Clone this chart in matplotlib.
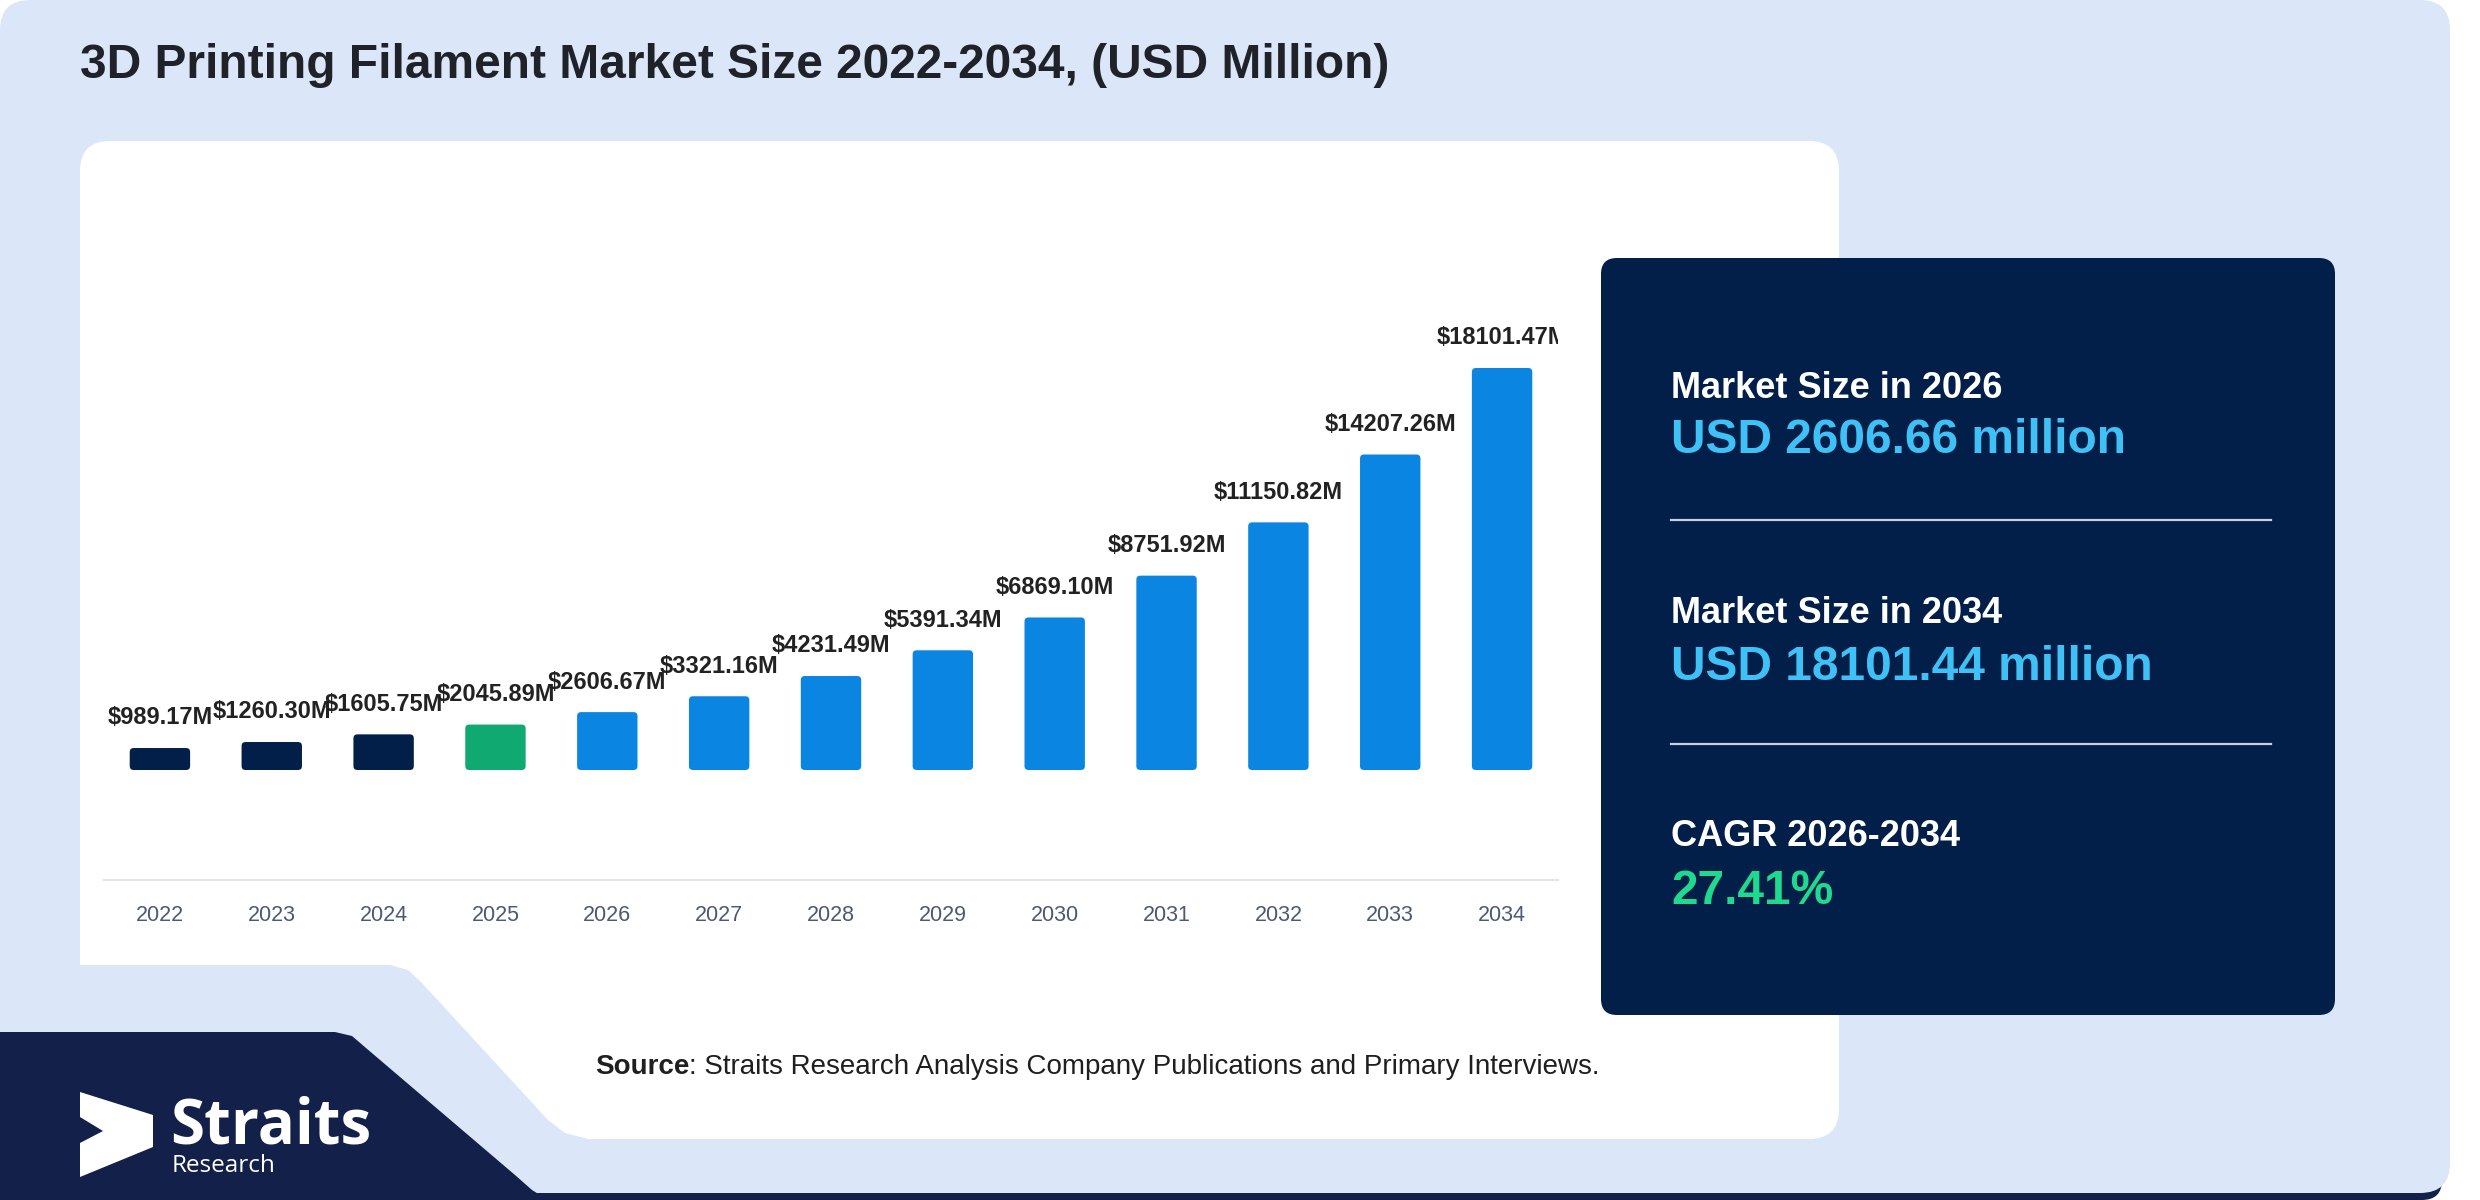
import matplotlib
matplotlib.use("Agg")
import matplotlib.pyplot as plt
from matplotlib.patches import FancyBboxPatch, Polygon

plt.rcParams["font.family"] = ["Liberation Sans", "DejaVu Sans"]

# data
years = ["2022", "2023", "2024", "2025", "2026", "2027", "2028",
         "2029", "2030", "2031", "2032", "2033", "2034"]
values = [989.17, 1260.30, 1605.75, 2045.89, 2606.67, 3321.16, 4231.49,
          5391.34, 6869.10, 8751.92, 11150.82, 14207.26, 18101.47]
base_year = "2025"

title = "3D Printing Filament Market Size 2022-2034, (USD Million)"
stats = [
    ("Market Size in 2026", "USD 2606.66 million"),
    ("Market Size in 2034", "USD 18101.44 million"),
    ("CAGR 2026-2034", "27.41%"),
]
source_rest = ": Straits Research Analysis Company Publications and Primary Interviews."

NAVY = "#021f4a"
LOGO_NAVY = "#13204a"
GREEN = "#10a972"
BLUE = "#0a85e2"
LIGHT_BG = "#dbe7f8"

W, H = 2480, 1200
fig = plt.figure(figsize=(W / 100, H / 100), dpi=100)
fig.patch.set_facecolor("white")

# background layer in pixel coordinates (y down)
bg = fig.add_axes([0, 0, 1, 1], zorder=0)
bg.set_xlim(0, W)
bg.set_ylim(H, 0)
bg.axis("off")

# dark strip peeking out under the card
bg.add_patch(FancyBboxPatch((0, 1120), 2442, 80, boxstyle="round,pad=0,rounding_size=20",
                            fc=LOGO_NAVY, ec="none"))
back = FancyBboxPatch((0, 0), 2450, 1193, boxstyle="round,pad=0,rounding_size=30",
                      fc=LIGHT_BG, ec="none")
bg.add_patch(back)

# white chart card with a cut corner at bottom left
bg.add_patch(FancyBboxPatch((80, 141), 1759, 998, boxstyle="round,pad=0,rounding_size=30",
                            fc="white", ec="none"))
bg.add_patch(Polygon([(60, 965), (390, 965), (408, 970), (421, 982), (548, 1120),
                      (565, 1133), (592, 1140), (592, 1165), (60, 1165)],
                     closed=True, fc=LIGHT_BG, ec="none"))

# logo block
logo_bg = Polygon([(0, 1032), (335, 1032), (352, 1036), (366, 1048), (515, 1175),
                   (532, 1190), (548, 1200), (0, 1200)], closed=True, fc=LOGO_NAVY, ec="none")
bg.add_patch(logo_bg)
bg.add_patch(Polygon([(80, 1092), (153, 1115), (153, 1147), (80, 1177), (80, 1143),
                      (103, 1131), (80, 1117)], closed=True, fc="white", ec="none"))
bg.text(170, 1143, "Straits", family=["Open Sans", "DejaVu Sans"], fontsize=44.5,
        fontweight="bold", color="white", va="baseline")
bg.text(172, 1172, "Research", family=["Open Sans", "DejaVu Sans"], fontsize=17.5,
        color="white", va="baseline")

# title
bg.text(80, 78, title, fontsize=34.5, fontweight="bold", color="#1f2329", va="baseline")

# source line
src = bg.text(595, 1074, "Source", fontsize=20, fontweight="bold", color="#1f1f1f",
              va="baseline")
bg.annotate(source_rest, xy=(1, 0), xycoords=src, ha="left", va="bottom",
            fontsize=20, color="#1f1f1f")

# stats panel
bg.add_patch(FancyBboxPatch((1601, 258), 734, 757, boxstyle="round,pad=0,rounding_size=16",
                            fc=NAVY, ec="none"))
value_colors = ["#3fc1f5", "#3fc1f5", "#1fd98e"]
heading_base = [398, 623, 846]
value_base = [453, 680, 904]
for (head, val), hy, vy, vc in zip(stats, heading_base, value_base, value_colors):
    bg.text(1671, hy, head, fontsize=26, fontweight="bold", color="white", va="baseline")
    bg.text(1671, vy, val, fontsize=34.5, fontweight="bold", color=vc, va="baseline")
for ly in [520, 744]:
    bg.plot([1671, 2271], [ly, ly], color="#c9d1de", lw=1.6)

# bar chart
ax_left, ax_right, ax_top, ax_bottom = 104, 1558, 158, 880
ax = fig.add_axes([ax_left / W, 1 - ax_bottom / H, (ax_right - ax_left) / W,
                   (ax_bottom - ax_top) / H], zorder=2)
ax.patch.set_alpha(0)

x = list(range(len(years)))
colors = []
for y in years:
    if int(y) < int(base_year):
        colors.append(NAVY)
    elif y == base_year:
        colors.append(GREEN)
    else:
        colors.append(BLUE)

ax.set_xlim(-0.5, len(years) - 0.5)
ax.set_ylim(-4953, 27558)

bars = ax.bar(x, values, width=0.54, color=colors)
x_per_px = (len(years)) / (ax_right - ax_left)
y_per_px = (27558 + 4953) / (ax_bottom - ax_top)
for rect in bars:
    rect.set_visible(False)
    ax.add_patch(FancyBboxPatch((rect.get_x(), 0), rect.get_width(), rect.get_height(),
                                boxstyle=f"round,pad=0,rounding_size={4 * x_per_px}",
                                mutation_aspect=y_per_px / x_per_px,
                                fc=rect.get_facecolor(), ec="none"))

for i, v in zip(x, values):
    ax.annotate(f"${v:.2f}M", (i, v), xytext=(0, 17), textcoords="offset points",
                ha="center", va="baseline", fontsize=17, fontweight="bold",
                color="#222222", clip_on=True)

ax.set_xticks(x, years)
ax.set_yticks([])
ax.tick_params(axis="x", length=0, pad=18, labelsize=15.5, labelcolor="#4b5975")
for side in ["top", "left", "right"]:
    ax.spines[side].set_visible(False)
ax.spines["bottom"].set_color("#e2e4e8")
ax.spines["bottom"].set_linewidth(1.5)

fig.savefig("out.png", dpi=100, facecolor=fig.get_facecolor())
